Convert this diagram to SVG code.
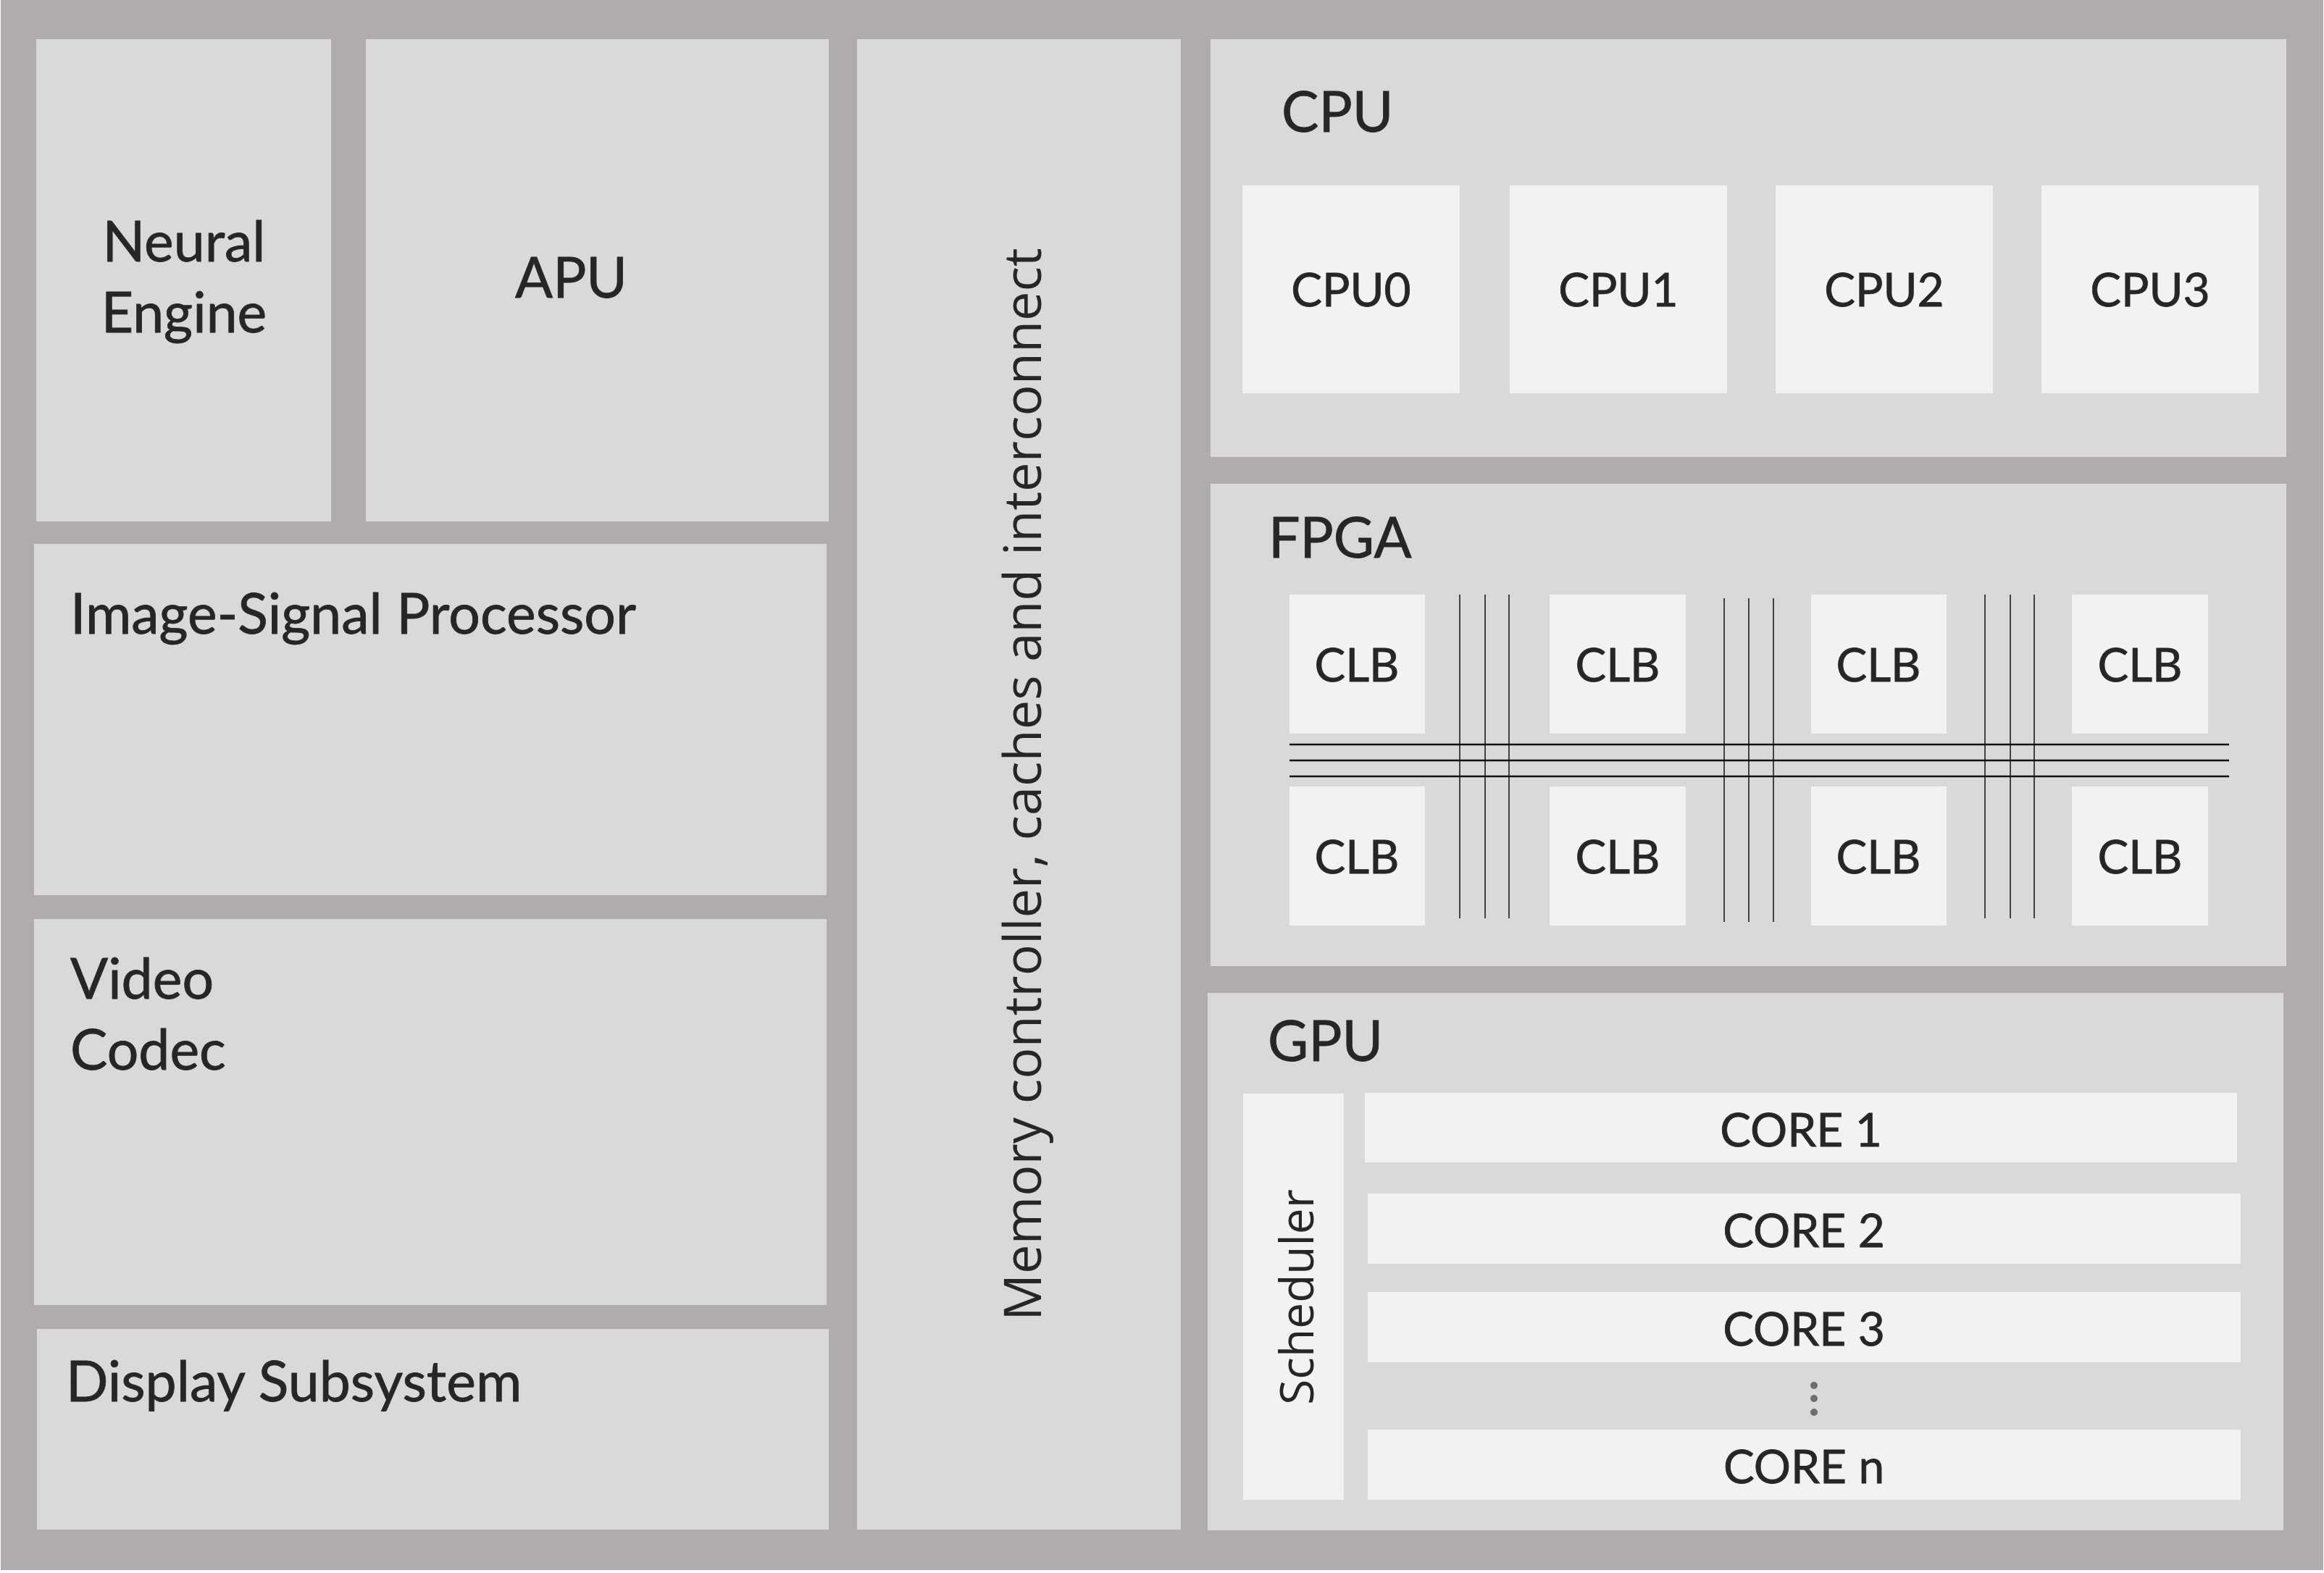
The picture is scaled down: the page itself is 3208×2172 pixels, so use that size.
<svg xmlns="http://www.w3.org/2000/svg" width="3208" height="2172" viewBox="0 0 3208 2172">
<style>
.blk{fill:#d9d9d9}
.sub{fill:#f2f2f2}
.t{font-family:Lato,"Liberation Sans",sans-serif;fill:#262626;stroke:#262626;stroke-width:0.8}
.h{font-size:77px}
.s{font-size:64px}
.v{font-family:"Open Sans","Liberation Sans",sans-serif;fill:#262626}
.hw{stroke:#111;stroke-width:2.5;fill:none}
.vw{stroke:#111;stroke-width:1.5;fill:none}
</style>
<rect x="0" y="0" width="3208" height="2172" fill="#ffffff"/>
<rect x="1" y="0" width="3206" height="2168" fill="#afacab"/>

<g id="neural-engine">
<rect class="blk" x="50" y="54" width="407" height="666"/>
<text class="t h" x="254" y="361" text-anchor="middle">Neural</text>
<text class="t h" x="254" y="459" text-anchor="middle">Engine</text>
</g>

<g id="apu">
<rect class="blk" x="505" y="54" width="639" height="666"/>
<text class="t h" x="711" y="411">APU</text>
</g>

<g id="isp">
<rect class="blk" x="47" y="751" width="1094" height="485"/>
<text class="t h" x="97" y="875">Image-Signal Processor</text>
</g>

<g id="video-codec">
<rect class="blk" x="47" y="1269" width="1094" height="533"/>
<text class="t h" x="97" y="1379">Video</text>
<text class="t h" x="97" y="1477">Codec</text>
</g>

<g id="display">
<rect class="blk" x="51" y="1835" width="1093" height="277"/>
<text class="t h" x="91" y="1935">Display Subsystem</text>
</g>

<g id="memory">
<rect class="blk" x="1183" y="54" width="447" height="2058"/>
<text class="v" font-size="72" transform="translate(1437 1083) rotate(-90)" text-anchor="middle">Memory controller, caches and interconnect</text>
</g>

<g id="cpu">
<rect class="blk" x="1671" y="54" width="1485" height="577"/>
<text class="t h" x="1769" y="182">CPU</text>
<g id="cpu0"><rect class="sub" x="1715" y="256" width="300" height="287"/><text class="t s" x="1865" y="423" text-anchor="middle">CPU0</text></g>
<g id="cpu1"><rect class="sub" x="2084" y="256" width="300" height="287"/><text class="t s" x="2234" y="423" text-anchor="middle">CPU1</text></g>
<g id="cpu2"><rect class="sub" x="2451" y="256" width="300" height="287"/><text class="t s" x="2601" y="423" text-anchor="middle">CPU2</text></g>
<g id="cpu3"><rect class="sub" x="2818" y="256" width="300" height="287"/><text class="t s" x="2968" y="423" text-anchor="middle">CPU3</text></g>
</g>

<g id="fpga">
<rect class="blk" x="1671" y="668" width="1485" height="666"/>
<text class="t h" x="1751" y="770">FPGA</text>
<g id="clb-1"><rect class="sub" x="1780" y="821" width="187" height="192"/><text class="t s" x="1873" y="941" text-anchor="middle">CLB</text></g>
<g id="clb-2"><rect class="sub" x="2139" y="821" width="188" height="192"/><text class="t s" x="2233" y="941" text-anchor="middle">CLB</text></g>
<g id="clb-3"><rect class="sub" x="2500" y="821" width="187" height="192"/><text class="t s" x="2593" y="941" text-anchor="middle">CLB</text></g>
<g id="clb-4"><rect class="sub" x="2860" y="821" width="188" height="192"/><text class="t s" x="2954" y="941" text-anchor="middle">CLB</text></g>
<g id="clb-5"><rect class="sub" x="1780" y="1086" width="187" height="192"/><text class="t s" x="1873" y="1206" text-anchor="middle">CLB</text></g>
<g id="clb-6"><rect class="sub" x="2139" y="1086" width="188" height="192"/><text class="t s" x="2233" y="1206" text-anchor="middle">CLB</text></g>
<g id="clb-7"><rect class="sub" x="2500" y="1086" width="187" height="192"/><text class="t s" x="2593" y="1206" text-anchor="middle">CLB</text></g>
<g id="clb-8"><rect class="sub" x="2860" y="1086" width="188" height="192"/><text class="t s" x="2954" y="1206" text-anchor="middle">CLB</text></g>
</g>

<g id="connectors">
<path class="hw" d="M1780 1028H3077M1780 1050H3077M1780 1072H3077"/>
<path class="vw" d="M2015 821V1268M2050 821V1268M2083 821V1268"/>
<path class="vw" d="M2380 826V1273M2414 826V1273M2448 826V1273"/>
<path class="vw" d="M2740 821V1268M2775 821V1268M2808 821V1268"/>
</g>

<g id="gpu">
<rect class="blk" x="1667" y="1371" width="1485" height="742"/>
<text class="t h" x="1750" y="1465">GPU</text>
<g id="scheduler">
<rect class="sub" x="1716" y="1510" width="139" height="561"/>
<text class="v" font-size="64" transform="translate(1813 1791) rotate(-90)" text-anchor="middle">Scheduler</text>
</g>
<g id="core1"><rect class="sub" x="1884" y="1509" width="1204" height="96"/><text class="t s" x="2486" y="1583" text-anchor="middle">CORE 1</text></g>
<g id="core2"><rect class="sub" x="1888" y="1648" width="1205" height="97"/><text class="t s" x="2490" y="1722" text-anchor="middle">CORE 2</text></g>
<g id="core3"><rect class="sub" x="1888" y="1784" width="1205" height="97"/><text class="t s" x="2490" y="1858" text-anchor="middle">CORE 3</text></g>
<g id="ellipsis" fill="#6f6c6b">
<circle cx="2504" cy="1913" r="5"/>
<circle cx="2504" cy="1931" r="5"/>
<circle cx="2504" cy="1950" r="5"/>
</g>
<g id="coren"><rect class="sub" x="1888" y="1974" width="1205" height="97"/><text class="t s" x="2490" y="2048" text-anchor="middle">CORE n</text></g>
</g>
</svg>
